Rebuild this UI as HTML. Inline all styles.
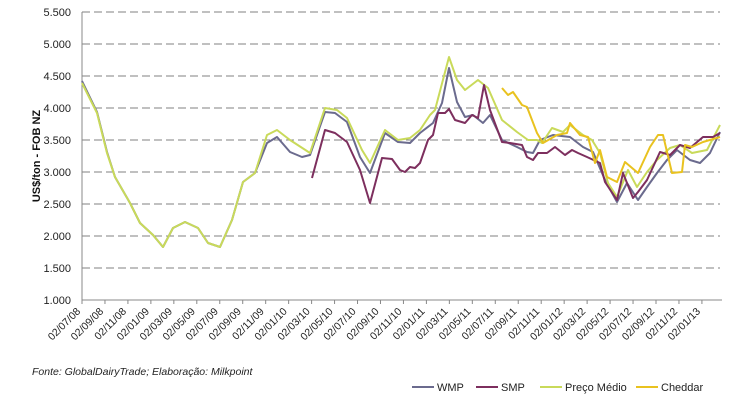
<!DOCTYPE html>
<html><head><meta charset="utf-8"><style>
body{margin:0;background:#fff;width:738px;height:402px;overflow:hidden;font-family:"Liberation Sans",sans-serif}
</style></head><body>
<svg width="738" height="402" xmlns="http://www.w3.org/2000/svg" font-family="Liberation Sans, sans-serif">
<g stroke="#808080" stroke-width="1" stroke-dasharray="8,4">
<line x1="82" x2="720" y1="12" y2="12"/><line x1="82" x2="720" y1="44" y2="44"/><line x1="82" x2="720" y1="76" y2="76"/><line x1="82" x2="720" y1="108" y2="108"/><line x1="82" x2="720" y1="140" y2="140"/><line x1="82" x2="720" y1="172" y2="172"/><line x1="82" x2="720" y1="204" y2="204"/><line x1="82" x2="720" y1="236" y2="236"/><line x1="82" x2="720" y1="268" y2="268"/>
</g>
<line x1="82" y1="12" x2="82" y2="300" stroke="#888"/>
<line x1="82" y1="300" x2="722" y2="300" stroke="#888"/>
<g font-size="11" fill="#222" text-anchor="end">
<text x="71" y="16">5.500</text><text x="71" y="48">5.000</text><text x="71" y="80">4.500</text><text x="71" y="112">4.000</text><text x="71" y="144">3.500</text><text x="71" y="176">3.000</text><text x="71" y="208">2.500</text><text x="71" y="240">2.000</text><text x="71" y="272">1.500</text><text x="71" y="304">1.000</text>
</g>
<text transform="translate(40,156) rotate(-90)" font-size="11" font-weight="bold" text-anchor="middle" fill="#111">US$/ton - FOB NZ</text>
<g font-size="10.5" fill="#222" text-anchor="end">
<text transform="translate(81,312) rotate(-45)">02/07/08</text>
<text transform="translate(103.96,312) rotate(-45)">02/09/08</text>
<text transform="translate(126.92,312) rotate(-45)">02/11/08</text>
<text transform="translate(149.88,312) rotate(-45)">02/01/09</text>
<text transform="translate(172.84,312) rotate(-45)">02/03/09</text>
<text transform="translate(195.8,312) rotate(-45)">02/05/09</text>
<text transform="translate(218.76,312) rotate(-45)">02/07/09</text>
<text transform="translate(241.72,312) rotate(-45)">02/09/09</text>
<text transform="translate(264.68,312) rotate(-45)">02/11/09</text>
<text transform="translate(287.64,312) rotate(-45)">02/01/10</text>
<text transform="translate(310.6,312) rotate(-45)">02/03/10</text>
<text transform="translate(333.56,312) rotate(-45)">02/05/10</text>
<text transform="translate(356.52,312) rotate(-45)">02/07/10</text>
<text transform="translate(379.48,312) rotate(-45)">02/09/10</text>
<text transform="translate(402.44,312) rotate(-45)">02/11/10</text>
<text transform="translate(425.4,312) rotate(-45)">02/01/11</text>
<text transform="translate(448.36,312) rotate(-45)">02/03/11</text>
<text transform="translate(471.32,312) rotate(-45)">02/05/11</text>
<text transform="translate(494.28,312) rotate(-45)">02/07/11</text>
<text transform="translate(517.24,312) rotate(-45)">02/09/11</text>
<text transform="translate(540.2,312) rotate(-45)">02/11/11</text>
<text transform="translate(563.16,312) rotate(-45)">02/01/12</text>
<text transform="translate(586.12,312) rotate(-45)">02/03/12</text>
<text transform="translate(609.08,312) rotate(-45)">02/05/12</text>
<text transform="translate(632.04,312) rotate(-45)">02/07/12</text>
<text transform="translate(655,312) rotate(-45)">02/09/12</text>
<text transform="translate(677.96,312) rotate(-45)">02/11/12</text>
<text transform="translate(700.92,312) rotate(-45)">02/01/13</text>
</g>
<g stroke="#888">
<line x1="82" x2="82" y1="300" y2="304"/><line x1="104.96" x2="104.96" y1="300" y2="304"/><line x1="127.92" x2="127.92" y1="300" y2="304"/><line x1="150.88" x2="150.88" y1="300" y2="304"/><line x1="173.84" x2="173.84" y1="300" y2="304"/><line x1="196.8" x2="196.8" y1="300" y2="304"/><line x1="219.76" x2="219.76" y1="300" y2="304"/><line x1="242.72" x2="242.72" y1="300" y2="304"/><line x1="265.68" x2="265.68" y1="300" y2="304"/><line x1="288.64" x2="288.64" y1="300" y2="304"/><line x1="311.6" x2="311.6" y1="300" y2="304"/><line x1="334.56" x2="334.56" y1="300" y2="304"/><line x1="357.52" x2="357.52" y1="300" y2="304"/><line x1="380.48" x2="380.48" y1="300" y2="304"/><line x1="403.44" x2="403.44" y1="300" y2="304"/><line x1="426.4" x2="426.4" y1="300" y2="304"/><line x1="449.36" x2="449.36" y1="300" y2="304"/><line x1="472.32" x2="472.32" y1="300" y2="304"/><line x1="495.28" x2="495.28" y1="300" y2="304"/><line x1="518.24" x2="518.24" y1="300" y2="304"/><line x1="541.2" x2="541.2" y1="300" y2="304"/><line x1="564.16" x2="564.16" y1="300" y2="304"/><line x1="587.12" x2="587.12" y1="300" y2="304"/><line x1="610.08" x2="610.08" y1="300" y2="304"/><line x1="633.04" x2="633.04" y1="300" y2="304"/><line x1="656" x2="656" y1="300" y2="304"/><line x1="678.96" x2="678.96" y1="300" y2="304"/><line x1="701.92" x2="701.92" y1="300" y2="304"/>
</g>
<g fill="none" stroke-width="2" stroke-linejoin="round">
<polyline stroke="#6b6b8e" points="82,81 97,112 107,152 115,177 130,203 140,223 153,235 163,247 173,228 185,222 198,228 208,243 220,247 232,220 243,182 255,173 267,143 277,137 290,152 302,157 310,155 325,112 335,113 347,122 360,157 370,173 385,133 398,142 410,143 420,133 433,123 442,103 449,68 457,102 465,117 473,115 483,123 490,115 502,140 517,147 527,152 533,153 540,140 553,135 570,137 583,147 593,152 605,180 617,202 627,183 638,200 647,187 657,173 667,160 677,150 690,160 700,163 710,153 720,132"/>
<polyline stroke="#c9da5a" points="82,83 97,113 107,153 115,177 130,203 140,223 153,235 163,247 173,228 185,222 198,228 208,243 220,247 232,220 243,182 255,173 267,135 277,130 290,140 310,153 325,108 337,110 347,118 362,150 370,163 385,130 398,140 410,138 420,130 430,115 435,110 449,57 457,80 465,90 478,80 488,88 502,120 517,132 528,140 537,140 542,143 552,128 563,132 570,125 583,135 592,140 600,153 608,183 617,197 628,170 637,187 647,172 657,160 670,148 680,145 692,153 707,150 720,125"/>
<polyline stroke="#7d2f5e" points="312,178 325,130 335,133 347,142 360,170 370,203 382,158 392,159 400,170 405,172 410,167 415,168 420,163 428,140 433,135 438,113 445,113 449,109 455,120 465,123 472,115 478,118 484,85 490,110 502,142 510,143 522,145 527,157 533,160 538,153 547,153 555,147 565,155 572,150 578,153 587,157 600,163 605,182 617,200 623,173 633,198 638,192 647,180 660,152 670,155 680,145 690,148 703,137 713,137 720,133"/>
<polyline stroke="#e9c21f" points="502,88 508,95 513,92 522,105 527,107 537,133 543,143 557,135 567,133 570,123 580,135 588,137 595,163 600,150 607,177 617,182 625,162 638,173 650,147 658,135 663,135 672,173 682,172 685,145 692,147 703,142 720,137"/>
</g>
<text x="32" y="375" font-size="10.5" font-style="italic" fill="#222">Fonte: GlobalDairyTrade; Elaboração:  Milkpoint</text>
<g font-size="11" fill="#222">
<line x1="412" x2="434" y1="387" y2="387" stroke="#6b6b8e" stroke-width="2"/><text x="437" y="391">WMP</text>
<line x1="476" x2="498" y1="387" y2="387" stroke="#7d2f5e" stroke-width="2"/><text x="501" y="391">SMP</text>
<line x1="540" x2="562" y1="387" y2="387" stroke="#c9da5a" stroke-width="2"/><text x="565" y="391">Preço Médio</text>
<line x1="636" x2="658" y1="387" y2="387" stroke="#e9c21f" stroke-width="2"/><text x="661" y="391">Cheddar</text>
</g>
</svg>
</body></html>
